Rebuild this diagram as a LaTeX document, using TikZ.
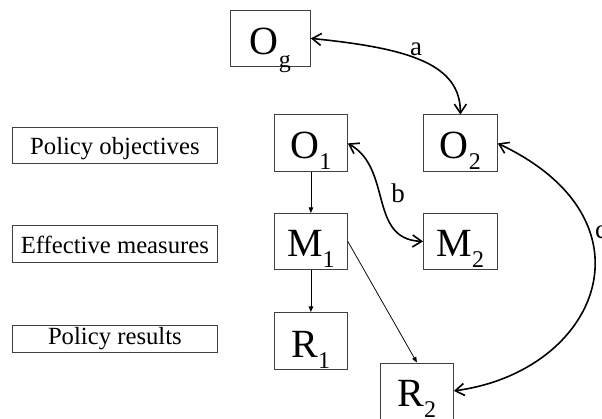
\documentclass[tikz,border=0pt]{standalone}
\usepackage{fontspec}
\setmainfont{Liberation Serif}
\usetikzlibrary{arrows.meta}
\newcommand{\mysub}[2][11pt]{\raisebox{-#1}{\fontsize{24}{24}\selectfont #2}}
\newcommand{\mainsym}[1]{{\fontsize{40}{40}\selectfont #1}}
\begin{document}
\begin{tikzpicture}[x=1pt,y=-1pt,
  bx/.style={draw=black!75, line width=0.8pt, inner sep=0pt, anchor=north west, align=center},
  bigbox/.style={bx, minimum width=73pt, text height=44pt, text depth=13pt},
  lab/.style={bx, minimum width=205pt, font=\fontsize{24.7}{26}\selectfont},
  thin/.style={line width=0.75pt, -{Triangle[length=5.5pt,width=4.5pt]}},
  thick/.style={line width=1.6pt, {Straight Barb[length=9pt,width=12pt]}-{Straight Barb[length=9pt,width=12pt]}},
  lbl/.style={font=\fontsize{27}{27}\selectfont, anchor=base, inner sep=0pt}]
\useasboundingbox (0,0) rectangle (602,419);
% main boxes
\node[bigbox, minimum width=80pt, text height=44pt, text depth=12pt] (Og) at (230,10) {\mainsym{O}\mysub[13pt]{g}};
\node[bigbox] (O1) at (274,114.5) {\mainsym{O}\mysub{1}};
\node[bigbox, minimum width=74pt] (O2) at (423,114.5) {\mainsym{O}\mysub{2}};
\node[bigbox, text height=43pt] (M1) at (274,213) {\mainsym{M}\mysub{1}};
\node[bigbox, minimum width=74pt, text height=43pt] (M2) at (423,213) {\mainsym{M}\mysub{2}};
\node[bigbox, text depth=12pt, text height=45pt] (R1) at (274,312) {\mainsym{R}\mysub{1}};
\node[bigbox, text depth=12pt, text height=44pt] (R2) at (380,362.5) {\mainsym{R}\mysub{2}};
% left labels
\node[lab, text height=27pt, text depth=9pt] (L1) at (12,127) {Policy objectives};
\node[lab, text height=27.5pt, text depth=9pt] (L2) at (12,225.5) {Effective measures};
\node[lab, text height=19pt, text depth=8pt] (L3) at (12,325) {Policy results};
% thin arrows
\draw[thin] (O1.south) -- (M1.north);
\draw[thin] (M1.south) -- (R1.north);
\draw[thin] (M1.east) -- (R2.north);
% thick double arrows
\draw[thick] (Og.east) .. controls +(100,10) and +(0,-50) .. (O2.north);
\draw[thick] (O1.east) .. controls +(45,25) and +(-55,-2) .. (M2.west);
\draw[thick] (O2.east) .. controls +(163,77) and +(145,-19.5) .. (R2.east);
% labels
\node[lbl] (la) at (416,56) {a};
\node[lbl] (lb) at (398,203) {b};
\node[lbl] (lc) at (601,239) {c};
\end{tikzpicture}
\end{document}
